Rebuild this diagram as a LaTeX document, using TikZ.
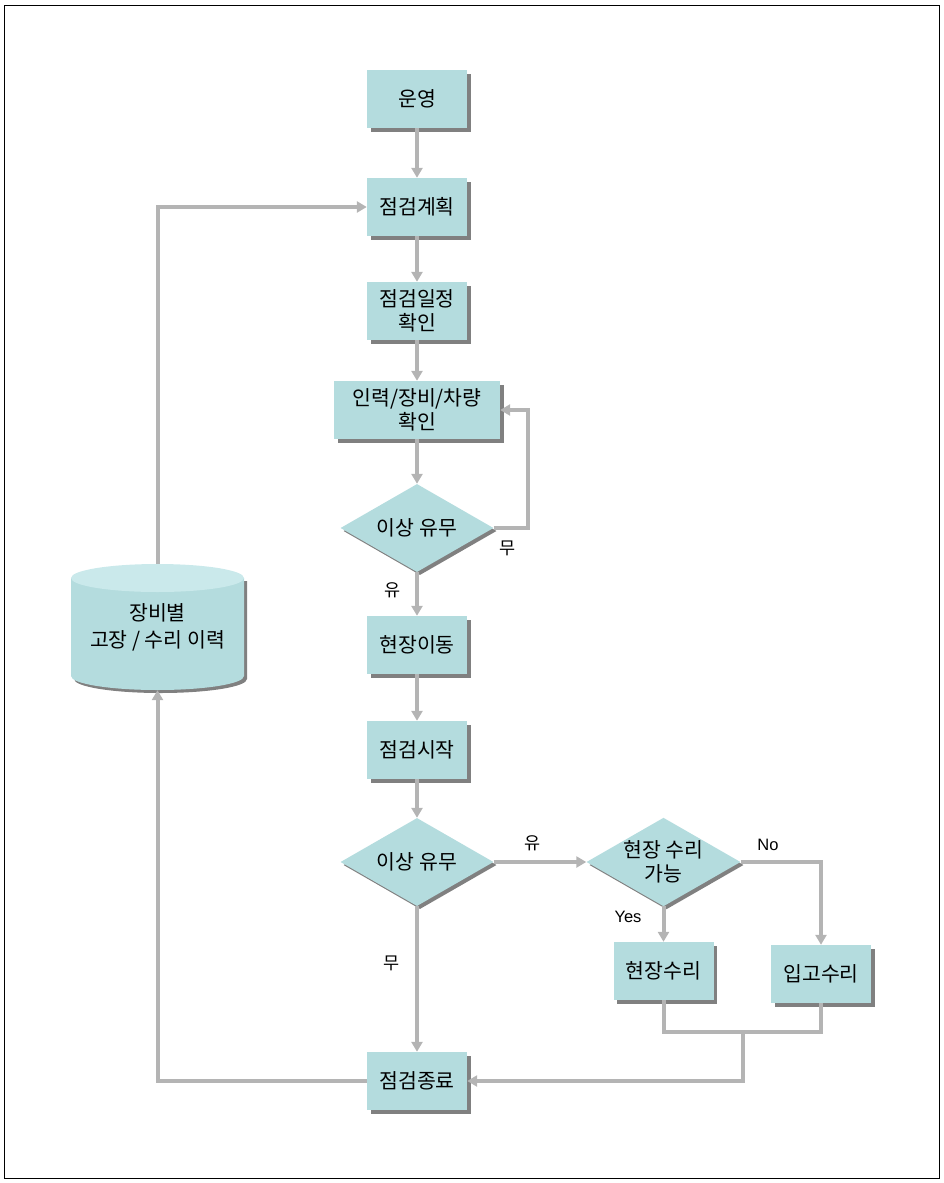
\documentclass[tikz,border=0pt]{standalone}
\usepackage{fontspec}
\setmainfont{Noto Sans CJK KR}
\newfontfamily\latinfont{Liberation Sans}
\usetikzlibrary{arrows.meta,%
                shapes.geometric,%
                shadows}
\definecolor{boxfill}{RGB}{180,220,222}
\definecolor{boxtop}{RGB}{202,233,235}
\definecolor{boxshade}{RGB}{128,128,128}
\definecolor{linegray}{RGB}{180,180,180}

\begin{document}
\begin{tikzpicture}[x=1pt,y=-1pt,>={Triangle[width=11pt,length=10pt]}]
  \tikzset{every node/.style = {font=\fontsize{20.5}{24}\selectfont}}
  \tikzset{task/.style = {rectangle, fill=boxfill, minimum width=100pt,
    minimum height=58pt, inner sep=0pt, align=center,
    drop shadow={shadow xshift=3.5pt, shadow yshift=-3.5pt, fill=boxshade, opacity=1}}}
  \tikzset{test/.style = {diamond, fill=boxfill, aspect=1.74, minimum width=153pt,
    minimum height=88pt, inner sep=0pt, align=center,
    drop shadow={shadow xshift=3pt, shadow yshift=-3pt, fill=boxshade, opacity=1}}}
  \tikzset{flow/.style = {draw=linegray, line width=4pt, ->}}
  \tikzset{wire/.style = {draw=linegray, line width=4pt}}
  \tikzset{lbl/.style = {font=\fontsize{17.5}{18}\selectfont}}
  \tikzset{yn/.style = {font=\latinfont\fontsize{16.5}{18}\selectfont}}

  \useasboundingbox (0,0) rectangle (943,1183);
  \draw[line width=1pt] (4.5,5) rectangle (939,1178);

  % history store
  \fill[boxshade] (74,581) -- (74,679) arc[start angle=180, end angle=360,
    x radius=86.5pt, y radius=14pt] -- (247,581) -- cycle;
  \fill[boxfill] (71,578) -- (71,676) arc[start angle=180, end angle=360,
    x radius=86.5pt, y radius=14pt] -- (244,578) -- cycle;
  \fill[boxtop] (157.5,578) ellipse[x radius=86.5pt, y radius=14pt];
  \node (hist) at (157.5,627) [minimum width=174pt, minimum height=126pt,
    inner sep=0pt, align=center, font=\fontsize{20.5}{27}\selectfont]
    {장비별\\고장 / 수리 이력};

  \node[task] (run)   at (417,99)  {운영};
  \node[task] (plan)  at (417,207) {점검계획};
  \node[task] (sched) at (417,311) {점검일정\\확인};
  \node[task, minimum width=166pt] (crew) at (417,410) {인력/장비/차량\\확인};
  \node[test] (chk1)  at (417,528) {이상 유무};
  \node[task] (move)  at (417,645) {현장이동};
  \node[task] (start) at (417,750) {점검시작};
  \node[test] (chk2)  at (417,862) {이상 유무};
  \node[test] (canfix) at (663.5,862) {현장 수리\\가능};
  \node[task] (sitefix) at (663.5,971) {현장수리};
  \node[task] (shopfix) at (821,974) {입고수리};
  \node[task] (finish) at (417,1081) {점검종료};

  \coordinate (back) at (528,410);
  \coordinate (merge) at (743,1032);

  \draw[flow] (run) -- (plan);
  \draw[flow] (plan) -- (sched);
  \draw[flow] (sched) -- (crew);
  \draw[flow] (crew) -- (chk1);
  \draw[flow] (chk1.east) -| (back) -- (crew.east);
  \draw[flow] (chk1) -- (move);
  \draw[flow] (move) -- (start);
  \draw[flow] (start) -- (chk2);
  \draw[flow] (chk2.east) -- (canfix.west);
  \draw[flow] (chk2) -- (finish);
  \draw[flow] (canfix) -- (sitefix);
  \draw[flow] (canfix.east) -| (shopfix.north);
  \draw[wire] (sitefix.south) |- (merge) -| (shopfix.south);
  \draw[flow] (merge) |- (finish.east);
  \draw[flow] (finish.west) -| (hist.south);
  \draw[flow] (hist.north) |- (plan.west);

  \node[lbl] (no1)  at (508,548) {무};
  \node[lbl] (yes1) at (393,590) {유};
  \node[lbl] (yes2) at (533,843) {유};
  \node[lbl] (no2)  at (392,963) {무};
  \node[yn]  (no3)  at (768,845) {No};
  \node[yn]  (yes3) at (628,917) {Yes};
\end{tikzpicture}
\end{document}
